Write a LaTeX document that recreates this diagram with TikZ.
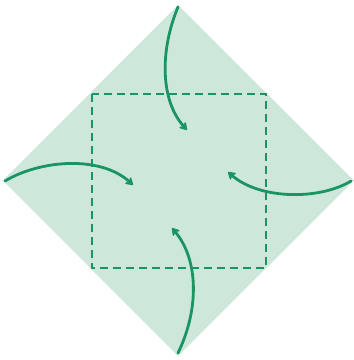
\documentclass[tikz,border=0pt]{standalone}
\usetikzlibrary{arrows.meta}
\definecolor{paper}{HTML}{CDE8DA}
\definecolor{ink}{HTML}{1B9464}
\tikzset{
  flow/.style={draw=ink, line width=2.8pt, line cap=round,
    -{Stealth[length=9pt,width=11pt,inset=3pt,round]}},
  fold/.style={draw=ink, line width=1.8pt, dash pattern=on 8pt off 5pt}
}
\begin{document}
\begin{tikzpicture}[x=1pt,y=-1pt]
\useasboundingbox (0,0) rectangle (354,360);
\coordinate (T) at (178,5);
\coordinate (R) at (354,180.5);
\coordinate (B) at (178,356);
\coordinate (L) at (3,180.5);
\fill[paper] (T) -- (R) -- (B) -- (L) -- cycle;
\draw[fold] (92,94) rectangle (266,268);
\coordinate (ts) at (178,7);
\coordinate (te) at (187,130);
\coordinate (ls) at (5,181);
\coordinate (le) at (133,185);
\coordinate (rs) at (351,181);
\coordinate (re) at (228,172);
\coordinate (bs) at (178,353);
\coordinate (be) at (172,228);
\draw[flow] (ts) .. controls (160,50) and (160,100) .. (te);
\draw[flow] (ls) .. controls (40,160) and (100,155) .. (le);
\draw[flow] (rs) .. controls (320,200) and (260,200) .. (re);
\draw[flow] (bs) .. controls (199,310) and (199,260) .. (be);
\end{tikzpicture}
\end{document}
